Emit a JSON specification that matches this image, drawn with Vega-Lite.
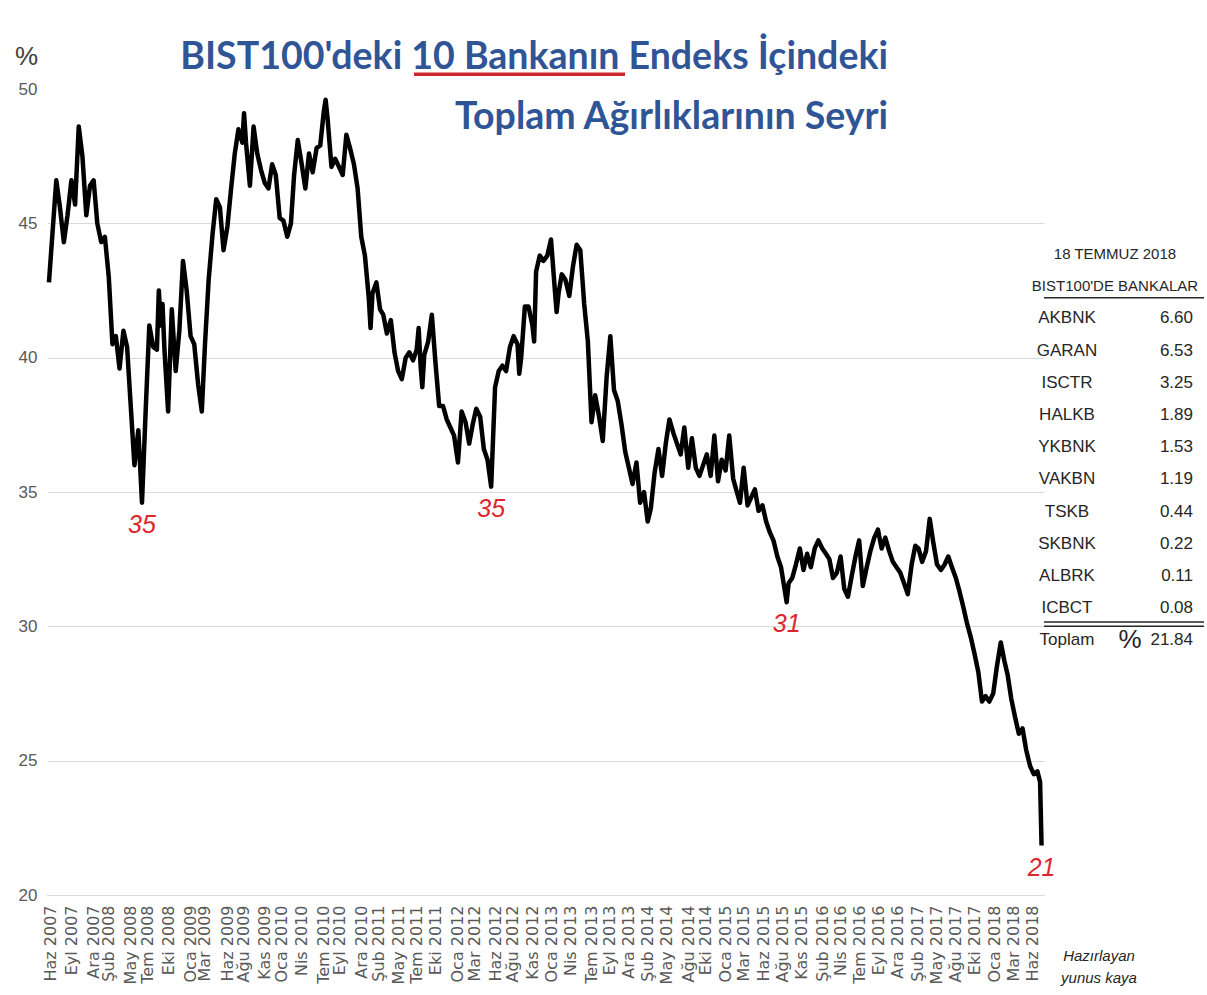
{
  "$schema": "https://vega.github.io/schema/vega-lite/v6.json",
  "background": "white",
  "padding": {"left": 14, "top": 38, "right": 0, "bottom": 0},
  "bounds": "flush",
  "spacing": 0,
  "config": {"view": {"stroke": null}, "axis": {"labelOverlap": false, "labelSeparation": 0}},
  "datasets": {
    "seri": [
      {"tarih": "2007-06-01", "oran": 42.8}, {"tarih": "2007-06-16", "oran": 44.7}, {"tarih": "2007-07-01", "oran": 46.6}, {"tarih": "2007-07-16", "oran": 45.6},
      {"tarih": "2007-08-01", "oran": 44.3}, {"tarih": "2007-08-16", "oran": 45.3}, {"tarih": "2007-09-01", "oran": 46.6}, {"tarih": "2007-09-16", "oran": 45.7},
      {"tarih": "2007-10-01", "oran": 48.6}, {"tarih": "2007-10-16", "oran": 47.5}, {"tarih": "2007-11-01", "oran": 45.3}, {"tarih": "2007-11-16", "oran": 46.4},
      {"tarih": "2007-12-01", "oran": 46.6}, {"tarih": "2007-12-16", "oran": 45.0},
      {"tarih": "2008-01-01", "oran": 44.3}, {"tarih": "2008-01-16", "oran": 44.5}, {"tarih": "2008-02-01", "oran": 43.0}, {"tarih": "2008-02-16", "oran": 40.5},
      {"tarih": "2008-03-01", "oran": 40.8}, {"tarih": "2008-03-16", "oran": 39.6}, {"tarih": "2008-04-01", "oran": 41.0}, {"tarih": "2008-04-16", "oran": 40.4},
      {"tarih": "2008-05-01", "oran": 38.2}, {"tarih": "2008-05-16", "oran": 36.0}, {"tarih": "2008-06-01", "oran": 37.3}, {"tarih": "2008-06-16", "oran": 34.6, "etiket": "35"},
      {"tarih": "2008-07-01", "oran": 38.0}, {"tarih": "2008-07-16", "oran": 41.2}, {"tarih": "2008-08-01", "oran": 40.4}, {"tarih": "2008-08-16", "oran": 40.3},
      {"tarih": "2008-08-24", "oran": 42.5},
      {"tarih": "2008-09-01", "oran": 41.2}, {"tarih": "2008-09-08", "oran": 42.0}, {"tarih": "2008-09-16", "oran": 40.3}, {"tarih": "2008-10-01", "oran": 38.0}, {"tarih": "2008-10-16", "oran": 41.8},
      {"tarih": "2008-11-01", "oran": 39.5}, {"tarih": "2008-11-16", "oran": 41.0}, {"tarih": "2008-12-01", "oran": 43.6}, {"tarih": "2008-12-16", "oran": 42.5},
      {"tarih": "2009-01-01", "oran": 40.8}, {"tarih": "2009-01-16", "oran": 40.5}, {"tarih": "2009-02-01", "oran": 39.0}, {"tarih": "2009-02-16", "oran": 38.0},
      {"tarih": "2009-03-01", "oran": 40.5}, {"tarih": "2009-03-16", "oran": 42.9}, {"tarih": "2009-04-01", "oran": 44.6}, {"tarih": "2009-04-16", "oran": 45.9},
      {"tarih": "2009-05-01", "oran": 45.6}, {"tarih": "2009-05-16", "oran": 44.0}, {"tarih": "2009-06-01", "oran": 44.9}, {"tarih": "2009-06-16", "oran": 46.3},
      {"tarih": "2009-07-01", "oran": 47.6}, {"tarih": "2009-07-16", "oran": 48.5}, {"tarih": "2009-08-01", "oran": 48.0}, {"tarih": "2009-08-08", "oran": 49.1}, {"tarih": "2009-08-16", "oran": 48.0},
      {"tarih": "2009-09-01", "oran": 46.4}, {"tarih": "2009-09-16", "oran": 48.6}, {"tarih": "2009-10-01", "oran": 47.6}, {"tarih": "2009-10-16", "oran": 47.0},
      {"tarih": "2009-11-01", "oran": 46.5}, {"tarih": "2009-11-16", "oran": 46.3}, {"tarih": "2009-12-01", "oran": 47.2}, {"tarih": "2009-12-16", "oran": 46.8},
      {"tarih": "2010-01-01", "oran": 45.2}, {"tarih": "2010-01-16", "oran": 45.1}, {"tarih": "2010-02-01", "oran": 44.5}, {"tarih": "2010-02-16", "oran": 45.0},
      {"tarih": "2010-03-01", "oran": 46.8}, {"tarih": "2010-03-16", "oran": 48.1}, {"tarih": "2010-04-01", "oran": 47.2}, {"tarih": "2010-04-16", "oran": 46.3},
      {"tarih": "2010-05-01", "oran": 47.6}, {"tarih": "2010-05-16", "oran": 46.9}, {"tarih": "2010-06-01", "oran": 47.8}, {"tarih": "2010-06-16", "oran": 47.9},
      {"tarih": "2010-07-01", "oran": 49.2}, {"tarih": "2010-07-08", "oran": 49.6}, {"tarih": "2010-07-16", "oran": 48.9}, {"tarih": "2010-08-01", "oran": 47.1}, {"tarih": "2010-08-16", "oran": 47.4},
      {"tarih": "2010-09-01", "oran": 47.1}, {"tarih": "2010-09-16", "oran": 46.8}, {"tarih": "2010-10-01", "oran": 48.3}, {"tarih": "2010-10-16", "oran": 47.8},
      {"tarih": "2010-11-01", "oran": 47.2}, {"tarih": "2010-11-16", "oran": 46.3}, {"tarih": "2010-12-01", "oran": 44.5}, {"tarih": "2010-12-16", "oran": 43.8},
      {"tarih": "2011-01-01", "oran": 42.2}, {"tarih": "2011-01-08", "oran": 41.1}, {"tarih": "2011-01-16", "oran": 42.4}, {"tarih": "2011-02-01", "oran": 42.8}, {"tarih": "2011-02-16", "oran": 41.8},
      {"tarih": "2011-03-01", "oran": 41.6}, {"tarih": "2011-03-16", "oran": 40.9}, {"tarih": "2011-04-01", "oran": 41.4}, {"tarih": "2011-04-16", "oran": 40.2},
      {"tarih": "2011-05-01", "oran": 39.5}, {"tarih": "2011-05-16", "oran": 39.2}, {"tarih": "2011-06-01", "oran": 40.0}, {"tarih": "2011-06-16", "oran": 40.2},
      {"tarih": "2011-07-01", "oran": 39.9}, {"tarih": "2011-07-16", "oran": 40.3}, {"tarih": "2011-07-24", "oran": 41.1}, {"tarih": "2011-08-01", "oran": 39.7}, {"tarih": "2011-08-08", "oran": 38.9}, {"tarih": "2011-08-16", "oran": 40.1},
      {"tarih": "2011-09-01", "oran": 40.6}, {"tarih": "2011-09-16", "oran": 41.6}, {"tarih": "2011-10-01", "oran": 39.8}, {"tarih": "2011-10-16", "oran": 38.2},
      {"tarih": "2011-11-01", "oran": 38.2}, {"tarih": "2011-11-16", "oran": 37.7}, {"tarih": "2011-12-01", "oran": 37.4}, {"tarih": "2011-12-16", "oran": 37.1},
      {"tarih": "2012-01-01", "oran": 36.1}, {"tarih": "2012-01-16", "oran": 38.0}, {"tarih": "2012-02-01", "oran": 37.6}, {"tarih": "2012-02-16", "oran": 36.8},
      {"tarih": "2012-03-01", "oran": 37.5}, {"tarih": "2012-03-16", "oran": 38.1}, {"tarih": "2012-04-01", "oran": 37.8}, {"tarih": "2012-04-16", "oran": 36.6},
      {"tarih": "2012-05-01", "oran": 36.2}, {"tarih": "2012-05-16", "oran": 35.2, "etiket": "35"}, {"tarih": "2012-06-01", "oran": 38.9}, {"tarih": "2012-06-16", "oran": 39.5},
      {"tarih": "2012-07-01", "oran": 39.7}, {"tarih": "2012-07-16", "oran": 39.5}, {"tarih": "2012-08-01", "oran": 40.4}, {"tarih": "2012-08-16", "oran": 40.8},
      {"tarih": "2012-09-01", "oran": 40.5}, {"tarih": "2012-09-08", "oran": 39.4}, {"tarih": "2012-09-16", "oran": 40.0}, {"tarih": "2012-10-01", "oran": 41.9}, {"tarih": "2012-10-16", "oran": 41.9},
      {"tarih": "2012-11-01", "oran": 41.2}, {"tarih": "2012-11-08", "oran": 40.6}, {"tarih": "2012-11-16", "oran": 43.2}, {"tarih": "2012-12-01", "oran": 43.8}, {"tarih": "2012-12-16", "oran": 43.6},
      {"tarih": "2013-01-01", "oran": 43.8}, {"tarih": "2013-01-16", "oran": 44.4}, {"tarih": "2013-02-01", "oran": 42.5}, {"tarih": "2013-02-08", "oran": 41.7}, {"tarih": "2013-02-16", "oran": 42.4},
      {"tarih": "2013-03-01", "oran": 43.1}, {"tarih": "2013-03-16", "oran": 42.9}, {"tarih": "2013-04-01", "oran": 42.3}, {"tarih": "2013-04-16", "oran": 43.4},
      {"tarih": "2013-05-01", "oran": 44.2}, {"tarih": "2013-05-16", "oran": 44.0}, {"tarih": "2013-06-01", "oran": 42.0}, {"tarih": "2013-06-16", "oran": 40.6},
      {"tarih": "2013-07-01", "oran": 37.6}, {"tarih": "2013-07-16", "oran": 38.6}, {"tarih": "2013-08-01", "oran": 37.8}, {"tarih": "2013-08-16", "oran": 36.9},
      {"tarih": "2013-09-01", "oran": 39.3}, {"tarih": "2013-09-16", "oran": 40.8}, {"tarih": "2013-10-01", "oran": 38.8}, {"tarih": "2013-10-16", "oran": 38.4},
      {"tarih": "2013-11-01", "oran": 37.5}, {"tarih": "2013-11-16", "oran": 36.5}, {"tarih": "2013-12-01", "oran": 35.9}, {"tarih": "2013-12-16", "oran": 35.3},
      {"tarih": "2014-01-01", "oran": 36.1}, {"tarih": "2014-01-16", "oran": 34.6}, {"tarih": "2014-02-01", "oran": 35.0}, {"tarih": "2014-02-16", "oran": 33.9},
      {"tarih": "2014-03-01", "oran": 34.4}, {"tarih": "2014-03-16", "oran": 35.7}, {"tarih": "2014-04-01", "oran": 36.6}, {"tarih": "2014-04-16", "oran": 35.6},
      {"tarih": "2014-05-01", "oran": 36.8}, {"tarih": "2014-05-16", "oran": 37.7}, {"tarih": "2014-06-01", "oran": 37.2}, {"tarih": "2014-06-16", "oran": 36.8},
      {"tarih": "2014-07-01", "oran": 36.4}, {"tarih": "2014-07-16", "oran": 37.4}, {"tarih": "2014-08-01", "oran": 35.9}, {"tarih": "2014-08-16", "oran": 37.0},
      {"tarih": "2014-09-01", "oran": 35.9}, {"tarih": "2014-09-16", "oran": 35.6}, {"tarih": "2014-10-01", "oran": 36.0}, {"tarih": "2014-10-16", "oran": 36.4},
      {"tarih": "2014-11-01", "oran": 35.6}, {"tarih": "2014-11-16", "oran": 37.1}, {"tarih": "2014-12-01", "oran": 35.4}, {"tarih": "2014-12-16", "oran": 36.2},
      {"tarih": "2015-01-01", "oran": 35.8}, {"tarih": "2015-01-16", "oran": 37.1}, {"tarih": "2015-02-01", "oran": 35.5}, {"tarih": "2015-02-16", "oran": 35.0},
      {"tarih": "2015-03-01", "oran": 34.6}, {"tarih": "2015-03-16", "oran": 35.9}, {"tarih": "2015-04-01", "oran": 34.5}, {"tarih": "2015-04-16", "oran": 34.8},
      {"tarih": "2015-05-01", "oran": 35.1}, {"tarih": "2015-05-16", "oran": 34.3}, {"tarih": "2015-06-01", "oran": 34.5}, {"tarih": "2015-06-16", "oran": 33.9},
      {"tarih": "2015-07-01", "oran": 33.5}, {"tarih": "2015-07-16", "oran": 33.2}, {"tarih": "2015-08-01", "oran": 32.6}, {"tarih": "2015-08-16", "oran": 32.2},
      {"tarih": "2015-09-01", "oran": 31.3}, {"tarih": "2015-09-08", "oran": 30.9, "etiket": "31"}, {"tarih": "2015-09-16", "oran": 31.6}, {"tarih": "2015-10-01", "oran": 31.8}, {"tarih": "2015-10-16", "oran": 32.3},
      {"tarih": "2015-11-01", "oran": 32.9}, {"tarih": "2015-11-16", "oran": 32.1}, {"tarih": "2015-12-01", "oran": 32.7}, {"tarih": "2015-12-16", "oran": 32.2},
      {"tarih": "2016-01-01", "oran": 32.9}, {"tarih": "2016-01-16", "oran": 33.2}, {"tarih": "2016-02-01", "oran": 32.9}, {"tarih": "2016-02-16", "oran": 32.7},
      {"tarih": "2016-03-01", "oran": 32.5}, {"tarih": "2016-03-16", "oran": 31.8}, {"tarih": "2016-04-01", "oran": 32.0}, {"tarih": "2016-04-16", "oran": 32.6},
      {"tarih": "2016-05-01", "oran": 31.4}, {"tarih": "2016-05-16", "oran": 31.1}, {"tarih": "2016-06-01", "oran": 31.9}, {"tarih": "2016-06-16", "oran": 32.6},
      {"tarih": "2016-07-01", "oran": 33.2}, {"tarih": "2016-07-16", "oran": 31.5}, {"tarih": "2016-08-01", "oran": 32.2}, {"tarih": "2016-08-16", "oran": 32.8},
      {"tarih": "2016-09-01", "oran": 33.3}, {"tarih": "2016-09-16", "oran": 33.6}, {"tarih": "2016-10-01", "oran": 32.9}, {"tarih": "2016-10-16", "oran": 33.3},
      {"tarih": "2016-11-01", "oran": 32.8}, {"tarih": "2016-11-16", "oran": 32.4}, {"tarih": "2016-12-01", "oran": 32.2}, {"tarih": "2016-12-16", "oran": 32.0},
      {"tarih": "2017-01-01", "oran": 31.6}, {"tarih": "2017-01-16", "oran": 31.2}, {"tarih": "2017-02-01", "oran": 32.3}, {"tarih": "2017-02-16", "oran": 33.0},
      {"tarih": "2017-03-01", "oran": 32.9}, {"tarih": "2017-03-16", "oran": 32.4}, {"tarih": "2017-04-01", "oran": 32.8}, {"tarih": "2017-04-16", "oran": 34.0},
      {"tarih": "2017-05-01", "oran": 33.1}, {"tarih": "2017-05-16", "oran": 32.3}, {"tarih": "2017-06-01", "oran": 32.1}, {"tarih": "2017-06-16", "oran": 32.3},
      {"tarih": "2017-07-01", "oran": 32.6}, {"tarih": "2017-07-16", "oran": 32.2}, {"tarih": "2017-08-01", "oran": 31.8}, {"tarih": "2017-08-16", "oran": 31.3},
      {"tarih": "2017-09-01", "oran": 30.7}, {"tarih": "2017-09-16", "oran": 30.1}, {"tarih": "2017-10-01", "oran": 29.6}, {"tarih": "2017-10-16", "oran": 29.0},
      {"tarih": "2017-11-01", "oran": 28.3}, {"tarih": "2017-11-16", "oran": 27.2}, {"tarih": "2017-12-01", "oran": 27.4}, {"tarih": "2017-12-16", "oran": 27.2},
      {"tarih": "2018-01-01", "oran": 27.5}, {"tarih": "2018-01-16", "oran": 28.5}, {"tarih": "2018-02-01", "oran": 29.4}, {"tarih": "2018-02-16", "oran": 28.7},
      {"tarih": "2018-03-01", "oran": 28.2}, {"tarih": "2018-03-16", "oran": 27.3}, {"tarih": "2018-04-01", "oran": 26.6}, {"tarih": "2018-04-16", "oran": 26.0},
      {"tarih": "2018-05-01", "oran": 26.2}, {"tarih": "2018-05-16", "oran": 25.4}, {"tarih": "2018-06-01", "oran": 24.8}, {"tarih": "2018-06-16", "oran": 24.5},
      {"tarih": "2018-07-01", "oran": 24.6}, {"tarih": "2018-07-12", "oran": 24.2}, {"tarih": "2018-07-18", "oran": 21.84, "etiket": "21"}
    ],
    "tablo": [
      {"sira": 1, "satir": "18 TEMMUZ 2018", "tur": "baslik"},
      {"sira": 2, "satir": "BIST100'DE BANKALAR", "tur": "baslik"},
      {"sira": 3, "satir": "AKBNK", "agirlik": 6.60, "tur": "banka"},
      {"sira": 4, "satir": "GARAN", "agirlik": 6.53, "tur": "banka"},
      {"sira": 5, "satir": "ISCTR", "agirlik": 3.25, "tur": "banka"},
      {"sira": 6, "satir": "HALKB", "agirlik": 1.89, "tur": "banka"},
      {"sira": 7, "satir": "YKBNK", "agirlik": 1.53, "tur": "banka"},
      {"sira": 8, "satir": "VAKBN", "agirlik": 1.19, "tur": "banka"},
      {"sira": 9, "satir": "TSKB", "agirlik": 0.44, "tur": "banka"},
      {"sira": 10, "satir": "SKBNK", "agirlik": 0.22, "tur": "banka"},
      {"sira": 11, "satir": "ALBRK", "agirlik": 0.11, "tur": "banka"},
      {"sira": 12, "satir": "ICBCT", "agirlik": 0.08, "tur": "banka"},
      {"sira": 13, "satir": "Toplam", "agirlik": 21.84, "tur": "toplam"}
    ]
  },
  "hconcat": [
    {
      "width": 997,
      "height": 806,
      "title": {
        "text": ["BIST100'deki 10 Bankanın Endeks İçindeki", "Toplam Ağırlıklarının Seyri"],
        "anchor": "end", "frame": "group", "offset": 0,
        "font": "Lato, Liberation Sans, sans-serif", "fontSize": 37.5, "fontWeight": "bold",
        "color": "#2f5597", "lineHeight": 60, "dx": -156, "dy": 93
      },
      "data": {"name": "seri"},
      "layer": [
        {
          "mark": {"type": "line", "color": "#000000", "strokeWidth": 4.5, "strokeJoin": "round"},
          "encoding": {
            "x": {
              "field": "tarih", "type": "temporal",
              "scale": {"type": "utc", "nice": false,
                "domain": [{"year": 2007, "month": 5, "date": 24, "utc": true}, {"year": 2018, "month": 7, "date": 28, "utc": true}]},
              "axis": {
                "title": null, "grid": false, "ticks": false, "tickCount": 200,
                "domainColor": "#d9d9d9", "domainWidth": 1,
                "labelAngle": -90, "labelAlign": "right", "labelBaseline": "middle",
                "labelPadding": 10, "labelFont": "DejaVu Sans", "labelFontSize": 16,
                "labelColor": "#595959", "labelOverlap": false, "labelSeparation": 0, "labelBound": false, "labelFlush": false,
                "labelExpr": "['Oca','Şub','Mar','Nis','May','Haz','Tem','Ağu','Eyl','Eki','Kas','Ara'][utcmonth(datum.value)] + ' ' + utcyear(datum.value)",
                "values": [
                  {"year": 2007, "month": 6, "date": 9, "utc": true}, {"year": 2007, "month": 9, "date": 1, "utc": true},
                  {"year": 2007, "month": 12, "date": 1, "utc": true}, {"year": 2008, "month": 2, "date": 1, "utc": true},
                  {"year": 2008, "month": 5, "date": 1, "utc": true}, {"year": 2008, "month": 7, "date": 7, "utc": true},
                  {"year": 2008, "month": 10, "date": 1, "utc": true}, {"year": 2009, "month": 1, "date": 1, "utc": true},
                  {"year": 2009, "month": 3, "date": 1, "utc": true}, {"year": 2009, "month": 6, "date": 1, "utc": true},
                  {"year": 2009, "month": 8, "date": 5, "utc": true}, {"year": 2009, "month": 11, "date": 1, "utc": true},
                  {"year": 2010, "month": 1, "date": 10, "utc": true}, {"year": 2010, "month": 4, "date": 1, "utc": true},
                  {"year": 2010, "month": 7, "date": 1, "utc": true}, {"year": 2010, "month": 9, "date": 4, "utc": true},
                  {"year": 2010, "month": 12, "date": 1, "utc": true}, {"year": 2011, "month": 2, "date": 8, "utc": true},
                  {"year": 2011, "month": 5, "date": 1, "utc": true}, {"year": 2011, "month": 7, "date": 16, "utc": true},
                  {"year": 2011, "month": 10, "date": 3, "utc": true}, {"year": 2012, "month": 1, "date": 1, "utc": true},
                  {"year": 2012, "month": 3, "date": 8, "utc": true}, {"year": 2012, "month": 6, "date": 1, "utc": true},
                  {"year": 2012, "month": 8, "date": 13, "utc": true}, {"year": 2012, "month": 11, "date": 1, "utc": true},
                  {"year": 2013, "month": 1, "date": 18, "utc": true}, {"year": 2013, "month": 4, "date": 7, "utc": true},
                  {"year": 2013, "month": 7, "date": 1, "utc": true}, {"year": 2013, "month": 9, "date": 11, "utc": true},
                  {"year": 2013, "month": 12, "date": 1, "utc": true}, {"year": 2014, "month": 2, "date": 16, "utc": true},
                  {"year": 2014, "month": 5, "date": 6, "utc": true}, {"year": 2014, "month": 8, "date": 1, "utc": true},
                  {"year": 2014, "month": 10, "date": 10, "utc": true}, {"year": 2015, "month": 1, "date": 1, "utc": true},
                  {"year": 2015, "month": 3, "date": 17, "utc": true}, {"year": 2015, "month": 6, "date": 4, "utc": true},
                  {"year": 2015, "month": 8, "date": 22, "utc": true}, {"year": 2015, "month": 11, "date": 9, "utc": true},
                  {"year": 2016, "month": 2, "date": 1, "utc": true}, {"year": 2016, "month": 4, "date": 14, "utc": true},
                  {"year": 2016, "month": 7, "date": 2, "utc": true}, {"year": 2016, "month": 9, "date": 19, "utc": true},
                  {"year": 2016, "month": 12, "date": 7, "utc": true}, {"year": 2017, "month": 2, "date": 24, "utc": true},
                  {"year": 2017, "month": 5, "date": 13, "utc": true}, {"year": 2017, "month": 8, "date": 1, "utc": true},
                  {"year": 2017, "month": 10, "date": 18, "utc": true}, {"year": 2018, "month": 1, "date": 5, "utc": true},
                  {"year": 2018, "month": 3, "date": 25, "utc": true}, {"year": 2018, "month": 6, "date": 12, "utc": true}
                ]
              }
            },
            "y": {
              "field": "oran", "type": "quantitative",
              "scale": {"domain": [20, 50], "nice": false, "zero": false},
              "axis": {
                "values": [20, 25, 30, 35, 40, 45, 50],
                "domain": false, "ticks": false,
                "labelPadding": 10, "labelFont": "Liberation Sans", "labelFontSize": 17, "labelColor": "#595959",
                "gridColor": {"condition": {"test": "datum.value == 50", "value": "rgba(0,0,0,0)"}, "value": "#d9d9d9"},
                "gridWidth": 1,
                "title": "%", "titleAngle": 0, "titleX": -21, "titleY": -33,
                "titleAlign": "center", "titleBaseline": "middle",
                "titleFont": "Liberation Sans", "titleFontSize": 26, "titleFontWeight": "normal", "titleColor": "#404040"
              }
            }
          }
        },
        {
          "transform": [{"filter": "datum.etiket"}],
          "mark": {"type": "text", "color": "#e0262d", "font": "Liberation Sans", "fontStyle": "italic", "fontSize": 25, "baseline": "middle", "align": "center", "dy": 22},
          "encoding": {
            "x": {"field": "tarih", "type": "temporal"},
            "y": {"field": "oran", "type": "quantitative"},
            "text": {"field": "etiket"}
          }
        },
        {
          "data": {"values": [{}]},
          "mark": {"type": "rule", "color": "#d0262d", "strokeWidth": 3.5},
          "encoding": {
            "x": {"datum": {"year": 2011, "month": 7, "date": 5, "utc": true}, "type": "temporal"},
            "x2": {"datum": {"year": 2013, "month": 11, "date": 15, "utc": true}},
            "y": {"datum": 50.55, "type": "quantitative"}
          }
        }
      ]
    },
    {
      "width": 160,
      "height": 806,
      "data": {"name": "tablo"},
      "title": {
        "text": ["Hazırlayan", "yunus kaya"], "orient": "bottom", "anchor": "middle", "frame": "group",
        "offset": 54, "dx": -25, "font": "Liberation Sans", "fontStyle": "italic",
        "fontSize": 15, "fontWeight": "normal", "color": "#262626", "lineHeight": 22
      },
      "layer": [
        {
          "transform": [{"filter": "datum.tur == 'baslik'"}],
          "mark": {"type": "text", "font": "Liberation Sans", "fontSize": 15, "color": "#262626", "align": "center", "baseline": "middle", "dx": -9},
          "encoding": {
            "y": {"field": "sira", "type": "quantitative", "scale": {"domain": [-4.124, 20.907], "reverse": true, "nice": false, "zero": false}, "axis": null},
            "text": {"field": "satir"}
          }
        },
        {
          "transform": [{"filter": "datum.tur != 'baslik'"}],
          "mark": {"type": "text", "font": "Liberation Sans", "fontSize": 17, "color": "#262626", "align": "center", "baseline": "middle"},
          "encoding": {
            "x": {"datum": "ad", "type": "nominal", "scale": {"type": "point", "domain": ["ad", "yuzde", "agirlik"], "padding": 0.27, "align": 0.676}, "axis": null},
            "y": {"field": "sira", "type": "quantitative"},
            "text": {"field": "satir"}
          }
        },
        {
          "transform": [{"filter": "datum.tur != 'baslik'"}],
          "mark": {"type": "text", "font": "Liberation Sans", "fontSize": 17, "color": "#262626", "align": "right", "baseline": "middle"},
          "encoding": {
            "x": {"datum": "agirlik", "type": "nominal"},
            "y": {"field": "sira", "type": "quantitative"},
            "text": {"field": "agirlik", "format": ".2f"}
          }
        },
        {
          "transform": [{"filter": "datum.tur == 'toplam'"}],
          "mark": {"type": "text", "font": "Liberation Sans", "fontSize": 26, "color": "#262626", "align": "center", "baseline": "middle"},
          "encoding": {
            "x": {"datum": "yuzde", "type": "nominal"},
            "y": {"field": "sira", "type": "quantitative"},
            "text": {"value": "%"}
          }
        },
        {
          "data": {"values": [{}]},
          "mark": {"type": "rule", "color": "#262626", "strokeWidth": 1.5},
          "encoding": {"y": {"datum": 2.36, "type": "quantitative"}}
        },
        {
          "data": {"values": [{}]},
          "mark": {"type": "rule", "color": "#262626", "strokeWidth": 1.5},
          "encoding": {"y": {"datum": 12.43, "type": "quantitative"}}
        },
        {
          "data": {"values": [{}]},
          "mark": {"type": "rule", "color": "#262626", "strokeWidth": 1.5},
          "encoding": {"y": {"datum": 12.56, "type": "quantitative"}}
        }
      ]
    }
  ]
}
